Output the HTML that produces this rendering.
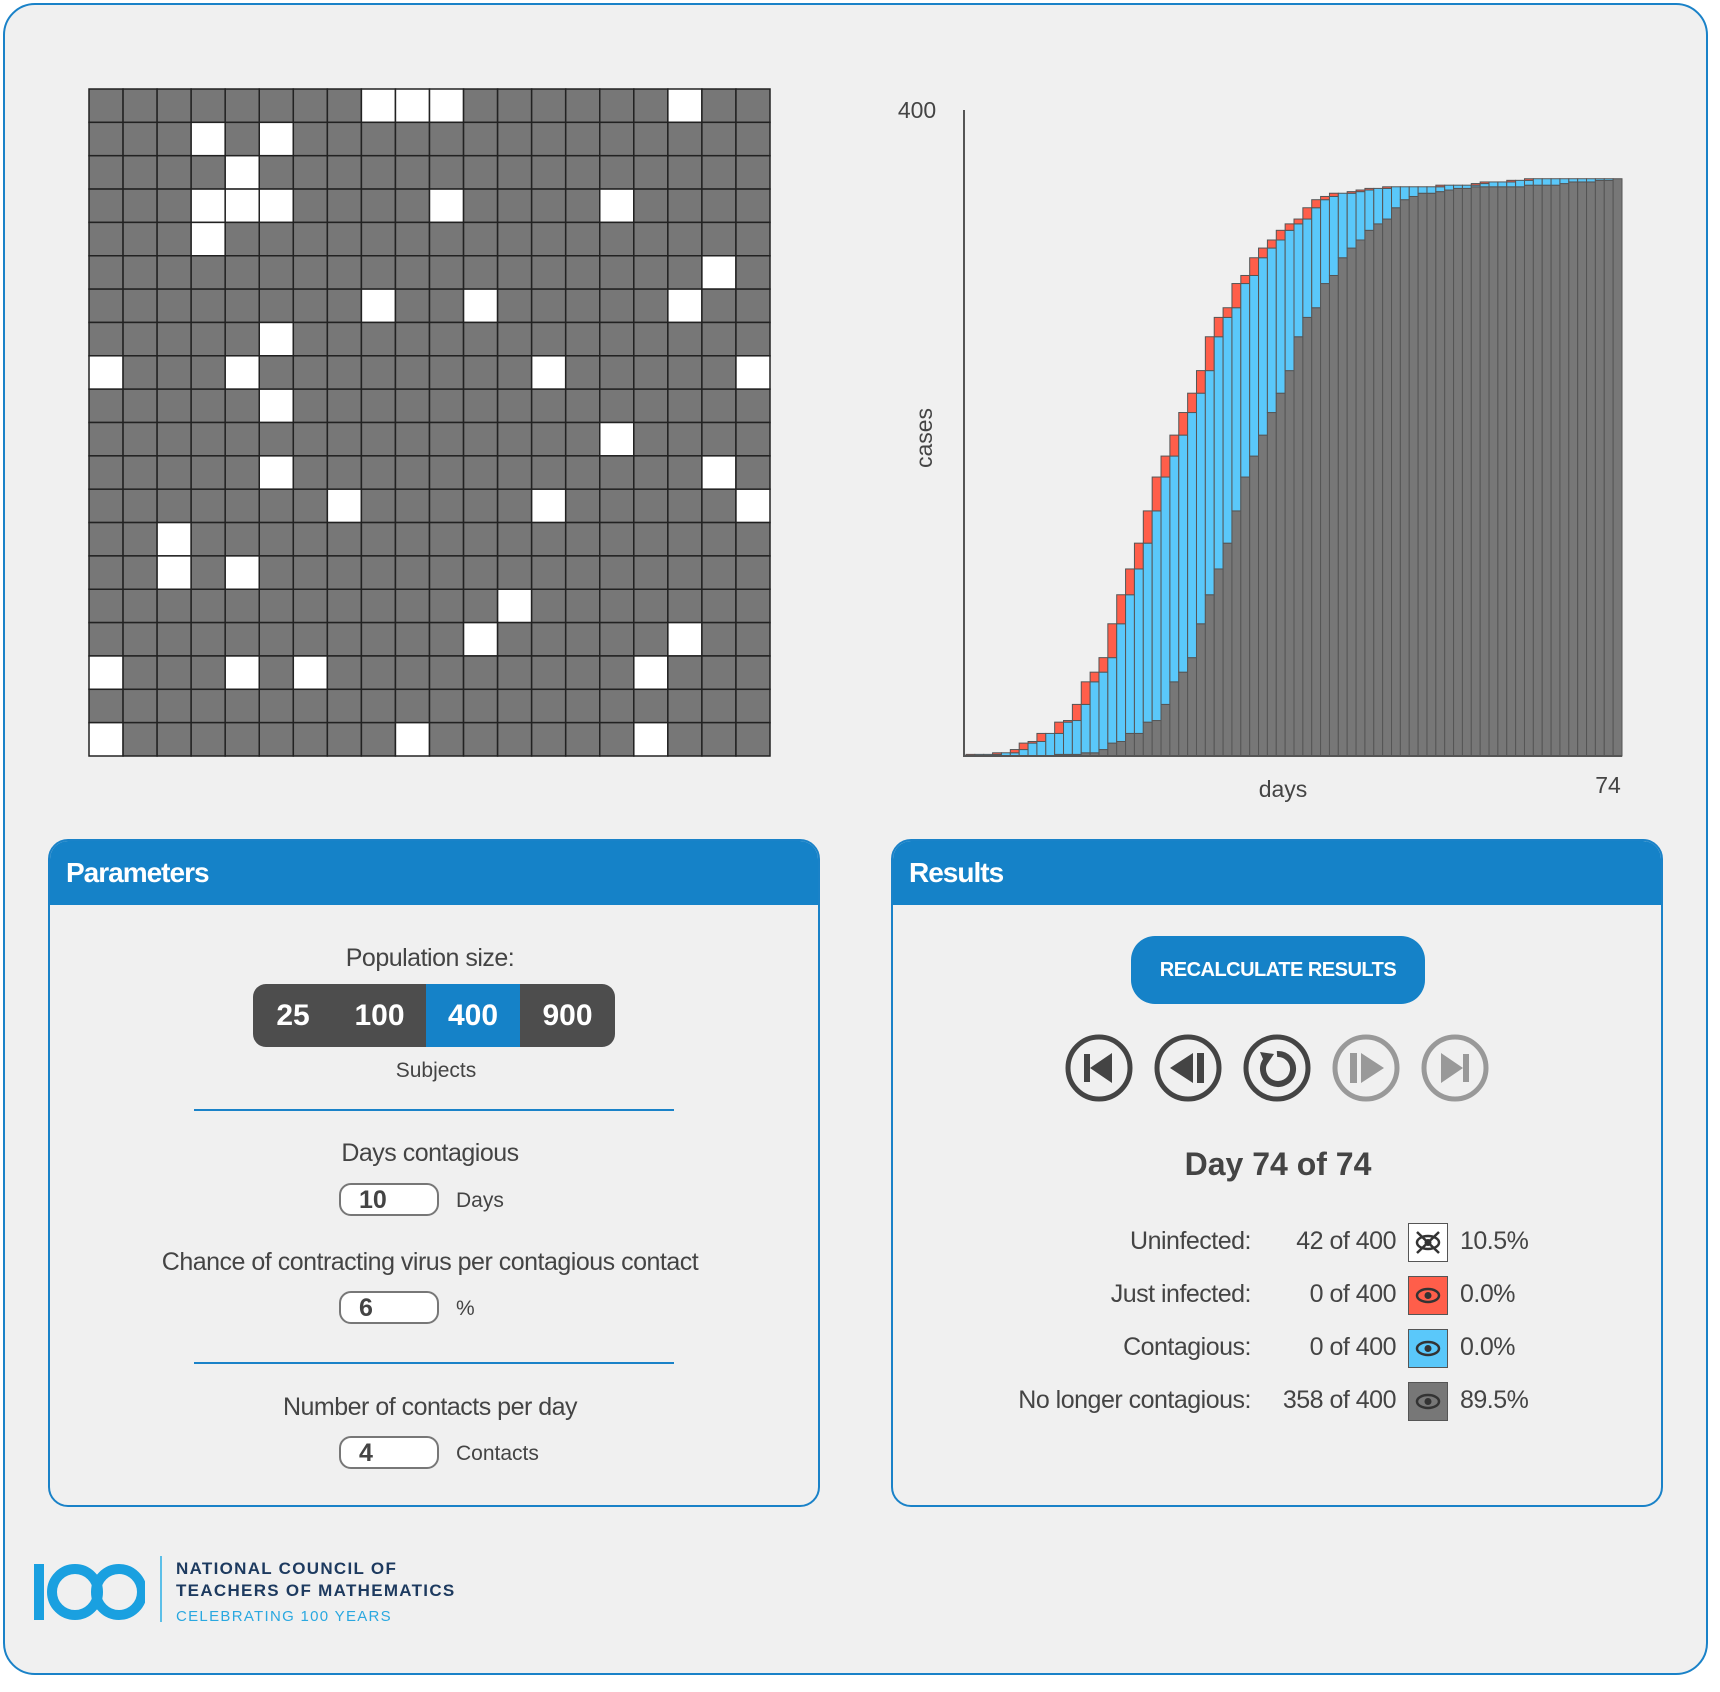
<!DOCTYPE html>
<html><head><meta charset="utf-8">
<style>
body{margin:0;width:1720px;height:1692px;background:#fff;font-family:"Liberation Sans",sans-serif;color:#444;position:relative;overflow:hidden}
.abs{position:absolute}
#frame{left:3px;top:3px;width:1701px;height:1668px;border:2px solid #1a82c8;border-radius:32px;background:#f0f0f0}
.panel{border:2px solid #1a82c8;border-radius:20px;background:#f0f0f0;overflow:hidden}
.phead{position:absolute;left:0;top:0;right:0;height:64px;background:#1582c8;color:#fff;font-size:28px;font-weight:bold;letter-spacing:-1px;line-height:64px;padding-left:16px}
.ctr{text-align:center;transform:translateX(-50%);white-space:nowrap}
.lbl{font-size:25px;letter-spacing:-0.5px}
.inp{border:2px solid #777;border-radius:12px;background:#fff;font-weight:bold;font-size:25px;line-height:30px;padding-left:18px;box-sizing:border-box}
.seg{color:#fff;font-weight:bold;font-size:30px;text-align:center;line-height:63px}
.row{font-size:25px;letter-spacing:-0.5px}
</style></head><body>
<div id="frame" class="abs"></div>

<svg id="grid" class="abs" style="left:0;top:0" width="800" height="780"></svg>
<svg id="chart" class="abs" style="left:0;top:0" width="1720" height="830"></svg>

<div class="abs panel" style="left:48px;top:839px;width:768px;height:664px">
  <div class="phead">Parameters</div>
</div>
<div class="abs lbl ctr" style="left:430px;top:944px">Population size:</div>
<div class="abs" style="left:253px;top:984px;width:362px;height:63px;border-radius:13px;overflow:hidden;background:#4d4d4d">
  <div class="abs seg" style="left:0;width:80px">25</div>
  <div class="abs seg" style="left:80px;width:93px">100</div>
  <div class="abs seg" style="left:173px;width:94px;background:#1582c8">400</div>
  <div class="abs seg" style="left:267px;width:95px">900</div>
</div>
<div class="abs ctr" style="left:436px;top:1059px;font-size:21px">Subjects</div>
<div class="abs" style="left:194px;top:1109px;width:480px;height:2px;background:#1a82c8"></div>
<div class="abs lbl ctr" style="left:430px;top:1139px">Days contagious</div>
<div class="abs inp" style="left:339px;top:1183px;width:100px;height:33px">10</div>
<div class="abs" style="left:456px;top:1189px;font-size:21px">Days</div>
<div class="abs lbl ctr" style="left:430px;top:1248px">Chance of contracting virus per contagious contact</div>
<div class="abs inp" style="left:339px;top:1291px;width:100px;height:33px">6</div>
<div class="abs" style="left:456px;top:1297px;font-size:21px">%</div>
<div class="abs" style="left:194px;top:1362px;width:480px;height:2px;background:#1a82c8"></div>
<div class="abs lbl ctr" style="left:430px;top:1393px">Number of contacts per day</div>
<div class="abs inp" style="left:339px;top:1436px;width:100px;height:33px">4</div>
<div class="abs" style="left:456px;top:1442px;font-size:21px">Contacts</div>

<div class="abs panel" style="left:891px;top:839px;width:768px;height:664px">
  <div class="phead">Results</div>
</div>
<div class="abs" style="left:1131px;top:936px;width:294px;height:68px;border-radius:24px;background:#1582c8;color:#fff;font-weight:bold;font-size:20px;line-height:68px;text-align:center;letter-spacing:-0.5px">RECALCULATE RESULTS</div>
<svg class="abs" style="left:1060px;top:1030px" width="440" height="80">
  <g><circle cx="39" cy="38" r="31" fill="none" stroke="#444" stroke-width="5"/><rect x="24" y="24" width="6" height="28" fill="#444"/><polygon points="30,38 52,23 52,53" fill="#444"/></g>
  <g><circle cx="128" cy="38" r="31" fill="none" stroke="#444" stroke-width="5"/><polygon points="110,38 133,23 133,53" fill="#444"/><rect x="137" y="23" width="7" height="30" fill="#444"/></g>
  <g><circle cx="217" cy="38" r="31" fill="none" stroke="#444" stroke-width="5"/><path d="M206 30 A15 15 0 1 0 217 24" fill="none" stroke="#444" stroke-width="6"/><polygon points="200,22 214,24 206,36" fill="#444"/></g>
  <g><circle cx="306" cy="38" r="31" fill="none" stroke="#999" stroke-width="5"/><rect x="290" y="23" width="7" height="30" fill="#999"/><polygon points="301,23 324,38 301,53" fill="#999"/></g>
  <g><circle cx="395" cy="38" r="31" fill="none" stroke="#999" stroke-width="5"/><polygon points="381,23 403,38 381,53" fill="#999"/><rect x="403" y="24" width="6" height="28" fill="#999"/></g>
</svg>
<div class="abs ctr" style="left:1278px;top:1146px;font-size:32px;font-weight:bold">Day 74 of 74</div>
<div id="rows"></div>

<div class="abs" style="left:33px;top:1562px;width:112px;height:58px">
  <svg width="112" height="60"><rect x="1" y="2" width="10" height="56" fill="#1aa0e0"/><circle cx="42" cy="30" r="23" fill="none" stroke="#1aa0e0" stroke-width="10"/><circle cx="86" cy="30" r="23" fill="none" stroke="#1aa0e0" stroke-width="10"/></svg>
</div>
<div class="abs" style="left:160px;top:1556px;width:2px;height:66px;background:#5bbfe8"></div>
<div class="abs" style="left:176px;top:1558px;font-size:17px;font-weight:bold;color:#1d3a5f;letter-spacing:1.3px;line-height:22px">NATIONAL COUNCIL OF<br>TEACHERS OF MATHEMATICS</div>
<div class="abs" style="left:176px;top:1608px;font-size:15px;color:#2aa8e0;letter-spacing:1.3px">CELEBRATING 100 YEARS</div>

<script>
// grid data
const gridSize = 20;
const uninfectedRows = [0,0,0,0,1,1,2,3,3,3,3,3,4,5,6,6,6,7,8,8,8,8,9,10,11,11,12,12,12,13,14,14,15,16,16,17,17,17,17,19,19,19];
const uninfectedCols = [8,9,10,17,3,5,4,3,4,5,10,15,3,18,8,11,17,5,0,4,13,19,5,15,5,18,7,13,19,2,2,4,12,11,17,0,4,6,16,0,9,16];
// chart data (cases per day)
const days = 74;
const recovered = [0,0,0,0,0,0,0,0,0,0,1,1,1,2,2,4,8,9,14,14,21,22,32,46,52,61,82,100,116,132,152,173,186,199,213,225,239,260,272,278,293,298,309,315,320,326,330,333,340,345,347,349,349,350,351,352,352,353,353,353,353,353,353,354,354,354,354,355,356,356,356,357,357,358];
const contagious = [0,1,1,1,2,2,4,8,9,14,13,20,21,30,44,48,53,73,86,102,111,130,141,140,147,152,143,139,144,140,126,120,112,110,102,95,87,70,61,62,52,49,40,34,30,25,22,19,13,8,6,4,4,3,3,2,2,1,2,3,3,3,4,3,4,4,4,3,2,2,2,1,1,0];
const justInfected = [1,0,0,1,0,2,4,1,5,0,7,1,10,14,6,9,21,18,16,16,20,21,13,13,14,12,14,21,12,6,15,5,11,6,5,6,4,3,7,5,2,2,0,1,1,1,0,1,0,0,0,0,0,1,0,0,0,1,1,0,0,1,0,1,0,0,0,0,0,0,0,0,0,0];
const yMax = 400;
const xTickLabel = "74";
const yTickLabel = "400";
// results table
const resLabels = ["Uninfected:","Just infected:","Contagious:","No longer contagious:"];
const resCounts = ["42 of 400","0 of 400","0 of 400","358 of 400"];
const resPcts = ["10.5%","0.0%","0.0%","89.5%"];

const NS="http://www.w3.org/2000/svg";
function mk(tag,attrs,parent){const e=document.createElementNS(NS,tag);for(const k in attrs)e.setAttribute(k,attrs[k]);parent.appendChild(e);return e;}

// grid
const g=document.getElementById('grid');
const gx0=89,gy0=89,cw=681/gridSize,ch=667/gridSize;
const white=new Set(uninfectedRows.map((r,i)=>r*gridSize+uninfectedCols[i]));
for(let r=0;r<gridSize;r++)for(let c=0;c<gridSize;c++){
  const cell=mk('rect',{x:gx0+c*cw,y:gy0+r*ch,width:cw,height:ch,fill:white.has(r*gridSize+c)?'#fff':'#777',stroke:'#222','stroke-width':1.5},g);
  
  
}

// chart
const s=document.getElementById('chart');
const base=756,top400=111,x0=966,x1=1622;
function yS(v){return base-(v/yMax)*(base-top400);}
function xS(i){return x0+i*(x1-x0)/days;}
const bw=(x1-x0)/days;
for(let i=0;i<days;i++){
  const segs=[[0,recovered[i],'#777','bar-no-longer-contagious'],[recovered[i],recovered[i]+contagious[i],'#5ac8fa','bar-contagious'],[recovered[i]+contagious[i],recovered[i]+contagious[i]+justInfected[i],'#ff5e4a','bar-just-infected']];
  for(const [a,b,col,nm] of segs){
    if(b<=a)continue;
    const r=mk('rect',{x:xS(i),y:yS(b),width:bw,height:yS(a)-yS(b),fill:col,stroke:'#555','stroke-width':1},s);
    
    
  }
}
const ax=mk('line',{x1:964,y1:110,x2:964,y2:base+1,stroke:'#555','stroke-width':2},s);


const bx=mk('line',{x1:964,y1:base,x2:x1,y2:base,stroke:'#555','stroke-width':2},s);


function txt(str,x,y,nm,extra){const t=mk('text',Object.assign({x:x,y:y,'font-size':23,fill:'#444','font-family':'Liberation Sans, sans-serif','text-anchor':'middle'},extra||{}),s);t.textContent=str;return t;}
txt(yTickLabel,917,118,'y-tick-max');
txt(xTickLabel,1608,793,'x-tick-max');
txt('days',1283,797,'x-axis-title');
txt('cases',932,438,'y-axis-title',{transform:'rotate(-90 932 438)'});

// results rows
const rowsDiv=document.getElementById('rows');
const swatch=['#fff','#ff5e4a','#5ac8fa','#777'];
const rowY=[1242,1295,1348,1401];
for(let i=0;i<4;i++){
  const l=document.createElement('div');l.className='abs row';l.style.cssText='right:'+(1720-1251)+'px;top:'+(rowY[i]-15)+'px';l.textContent=resLabels[i];
  
  
  rowsDiv.appendChild(l);
  const c=document.createElement('div');c.className='abs row';c.style.cssText='right:'+(1720-1396)+'px;top:'+(rowY[i]-15)+'px';c.textContent=resCounts[i];
  
  
  rowsDiv.appendChild(c);
  const w=document.createElement('div');w.className='abs';w.style.cssText='left:1408px;top:'+(rowY[i]-19)+'px;width:38px;height:37px;border:1px solid #555;background:'+swatch[i];
  w.innerHTML='<svg width="38" height="37"><ellipse cx="19" cy="18.5" rx="11" ry="6.5" fill="none" stroke="#333" stroke-width="2.5"/><circle cx="19" cy="18.5" r="3.5" fill="#333"/>'+(i==0?'<line x1="8" y1="8" x2="30" y2="29" stroke="#333" stroke-width="2.5"/><line x1="30" y1="8" x2="8" y2="29" stroke="#333" stroke-width="2.5"/>':'')+'</svg>';
  
  
  rowsDiv.appendChild(w);
  const p=document.createElement('div');p.className='abs row';p.style.cssText='left:1460px;top:'+(rowY[i]-15)+'px';p.textContent=resPcts[i];
  
  
  rowsDiv.appendChild(p);
}
</script>
</body></html>
